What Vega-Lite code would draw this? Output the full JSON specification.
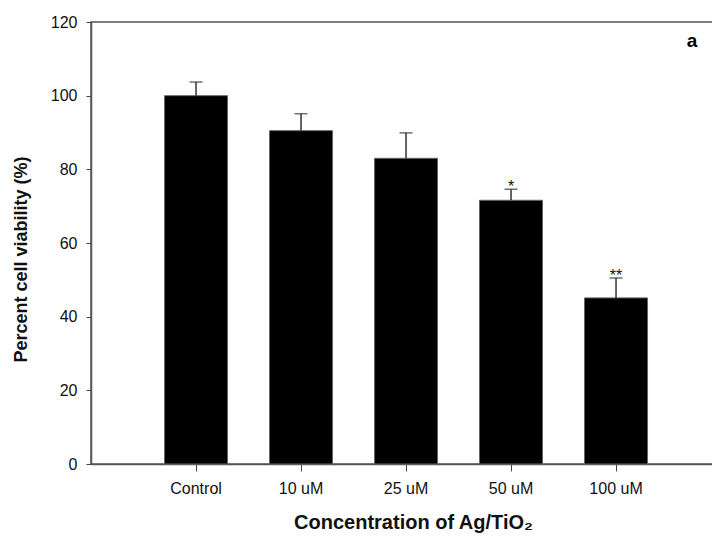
{
  "$schema": "https://vega.github.io/schema/vega-lite/v6.json",
  "width": 622,
  "height": 442,
  "autosize": "none",
  "padding": {"left": 91, "top": 22, "right": 0, "bottom": 75},
  "background": "white",
  "config": {
    "view": {"stroke": "#555", "strokeWidth": 1.5},
    "font": "Liberation Sans"
  },
  "data": {
    "values": [
      {"group": "Control", "viability": 100.0, "upper": 103.7, "sig": ""},
      {"group": "10 uM", "viability": 90.5, "upper": 95.1, "sig": ""},
      {"group": "25 uM", "viability": 83.0, "upper": 89.9, "sig": ""},
      {"group": "50 uM", "viability": 71.6, "upper": 74.6, "sig": "*"},
      {"group": "100 uM", "viability": 45.1, "upper": 50.5, "sig": "**"}
    ]
  },
  "resolve": {"scale": {"x": "independent"}, "axis": {"x": "independent"}},
  "layer": [
    {
      "layer": [
        {
          "mark": {"type": "bar", "color": "black", "stroke": "#666", "strokeWidth": 1},
          "encoding": {
            "y": {
              "field": "viability", "type": "quantitative",
              "scale": {"domain": [0, 120], "nice": false},
              "axis": {
                "title": "Percent cell viability (%)", "values": [0, 20, 40, 60, 80, 100, 120],
                "grid": false, "labelFontSize": 16, "labelColor": "#111", "labelPadding": 9,
                "tickSize": 5, "tickColor": "#444", "domainColor": "#555", "domainWidth": 1.5,
                "titleFontSize": 18, "titleFontWeight": "bold", "titleColor": "#111", "titlePadding": 20,
                "titleY": 237
              }
            }
          }
        },
        {
          "mark": {"type": "rule", "color": "#333", "strokeWidth": 1.5},
          "encoding": {"y": {"field": "viability", "type": "quantitative"}, "y2": {"field": "upper"}}
        },
        {
          "mark": {"type": "tick", "color": "#333", "thickness": 1.5, "size": 13},
          "encoding": {"y": {"field": "upper", "type": "quantitative"}}
        },
        {
          "mark": {"type": "text", "color": "#111", "fontSize": 16, "baseline": "alphabetic", "dy": 3},
          "encoding": {"y": {"field": "upper", "type": "quantitative"}, "text": {"field": "sig"}}
        }
      ],
      "encoding": {
        "x": {
          "field": "group", "type": "nominal", "sort": null,
          "scale": {"paddingInner": 0.4, "paddingOuter": 0.662, "align": 0.529},
          "axis": {
            "title": "Concentration of Ag/TiO₂", "labelAngle": 0,
            "labelFontSize": 16, "labelColor": "#111", "labelPadding": 9,
            "tickSize": 7, "tickColor": "#444", "domainColor": "#555", "domainWidth": 1.5,
            "titleFontSize": 20, "titleFontWeight": "bold", "titleColor": "#111", "titlePadding": 16,
            "titleX": 322
          }
        }
      }
    },
    {
      "data": {"values": [{"label": "a", "pos": 0.975, "height": 113.2}]},
      "mark": {"type": "text", "fontSize": 19, "fontWeight": "bold", "color": "black", "align": "right", "baseline": "alphabetic"},
      "encoding": {
        "x": {"field": "pos", "type": "quantitative", "scale": {"domain": [0, 1]}, "axis": null},
        "y": {"field": "height", "type": "quantitative"},
        "text": {"field": "label"}
      }
    }
  ]
}
